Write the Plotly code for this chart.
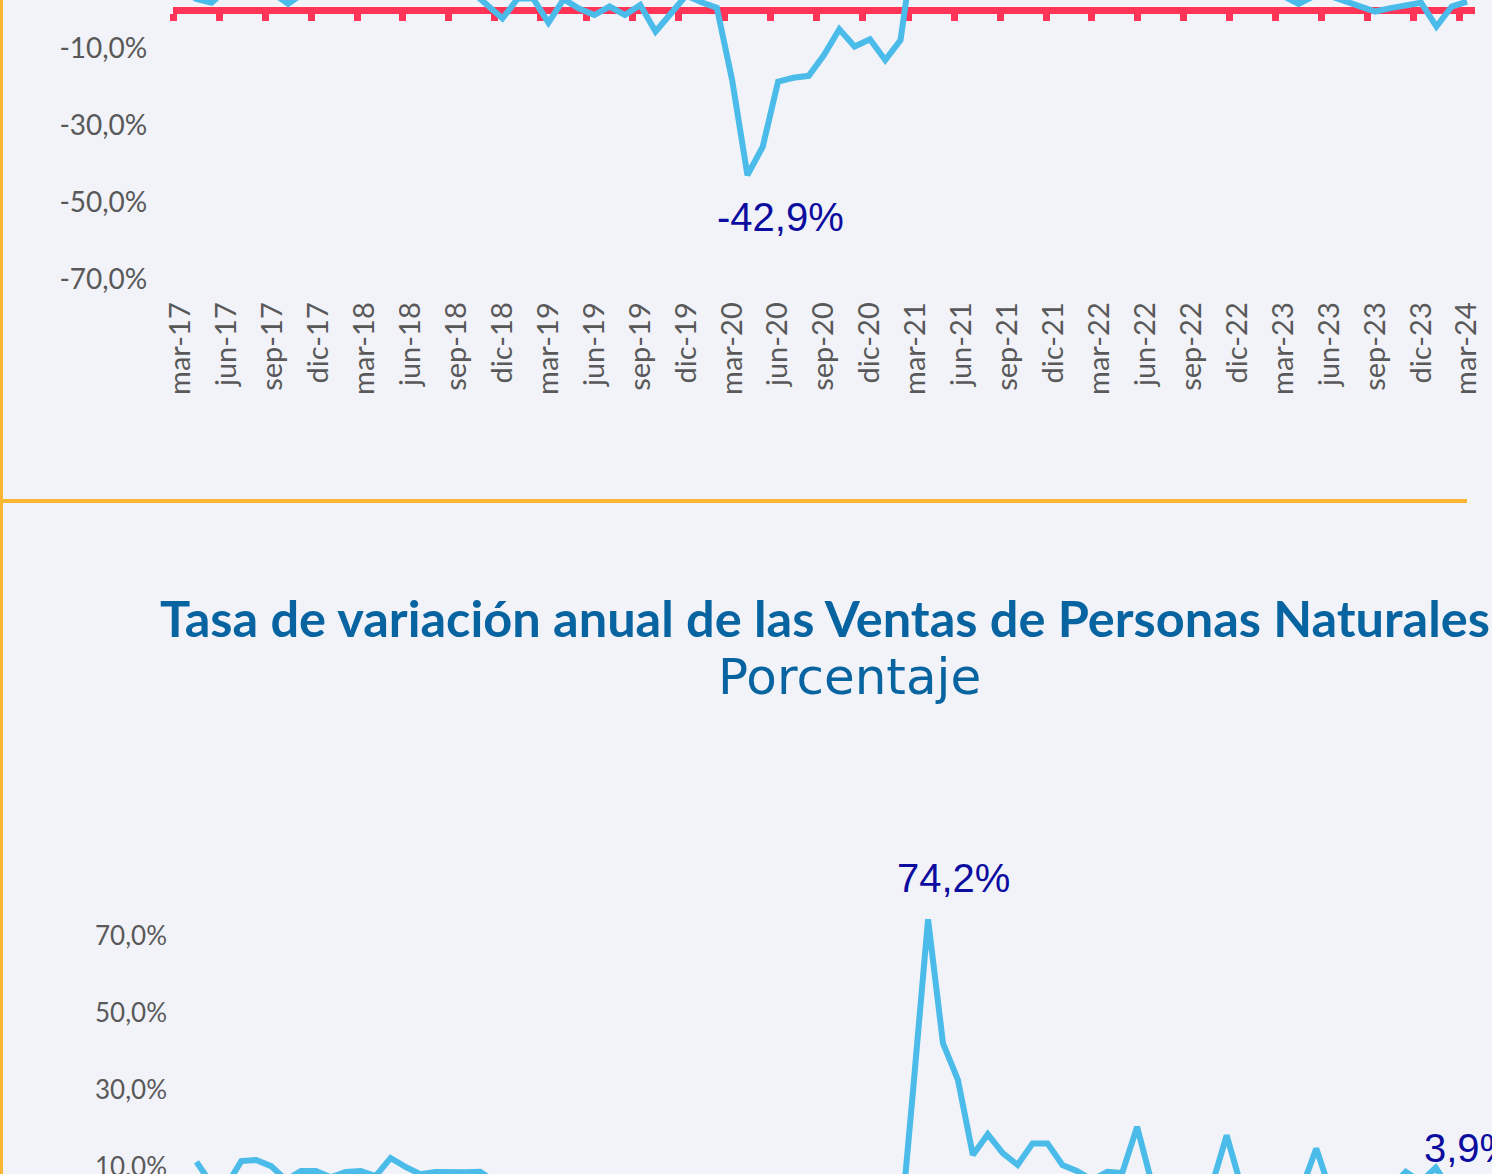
import plotly.graph_objects as go

# ---------------- data ----------------
periods = [
    "mar-17", "abr-17", "may-17", "jun-17", "jul-17", "ago-17", "sep-17", "oct-17", "nov-17", "dic-17",
    "ene-18", "feb-18", "mar-18", "abr-18", "may-18", "jun-18", "jul-18", "ago-18", "sep-18", "oct-18", "nov-18", "dic-18",
    "ene-19", "feb-19", "mar-19", "abr-19", "may-19", "jun-19", "jul-19", "ago-19", "sep-19", "oct-19", "nov-19", "dic-19",
    "ene-20", "feb-20", "mar-20", "abr-20", "may-20", "jun-20", "jul-20", "ago-20", "sep-20", "oct-20", "nov-20", "dic-20",
    "ene-21", "feb-21", "mar-21", "abr-21", "may-21", "jun-21", "jul-21", "ago-21", "sep-21", "oct-21", "nov-21", "dic-21",
    "ene-22", "feb-22", "mar-22", "abr-22", "may-22", "jun-22", "jul-22", "ago-22", "sep-22", "oct-22", "nov-22", "dic-22",
    "ene-23", "feb-23", "mar-23", "abr-23", "may-23", "jun-23", "jul-23", "ago-23", "sep-23", "oct-23", "nov-23", "dic-23",
    "ene-24", "feb-24", "mar-24",
]

ventas_totales = [
    5.2, 2.9, 1.9, 5.5, 6.8, 5.9, 4.4, 1.6, 4.4, 6.1,
    5.4, 7.2, 4.8, 5.6, 6.4, 4.9, 5.3, 6.0, 5.1, 4.8, 1.3, -2.2,
    3.0, 3.0, -3.3, 2.8, 0.4, -1.3, 0.9, -1.3, 1.3, -5.6, -0.9, 3.8,
    2.0, 0.6, -18.2, -42.9, -35.5, -18.6, -17.6, -17.1, -11.7, -5.0, -9.5, -7.6,
    -13.0, -7.8, 20.5, 62.0, 38.0, 29.5, 12.5, 16.0, 11.0, 9.0, 13.5, 14.0,
    9.5, 7.5, 5.5, 7.5, 7.0, 16.5, 6.5, 5.5, 5.0, 4.5, 5.0, 12.0,
    4.8, 4.0, 3.6, 1.6, 3.6, 3.7, 2.2, 0.9, -0.4, 0.5, 1.3, 1.9,
    -4.3, 0.9, 2.2,
]

ventas_personas_naturales = [
    11.2, 5.5, 5.0, 11.4, 11.7, 10.1, 6.5, 8.8, 8.8, 7.2,
    8.6, 8.8, 7.5, 12.2, 9.9, 8.0, 8.6, 8.4, 8.5, 8.6, 6.0, 5.2,
    6.8, 5.5, 4.8, 6.2, 5.0, 4.2, 5.8, 4.6, 5.3, 2.1, 4.4, 6.0,
    5.2, 4.0, -14.5, -44.0, -37.0, -21.0, -18.5, -16.0, -11.0, -6.0, -8.5, -7.0,
    -12.5, -13.0, 30.0, 74.2, 42.0, 32.5, 13.0, 18.4, 13.5, 10.4, 16.0, 16.0,
    10.4, 8.8, 6.5, 8.6, 8.3, 20.3, 5.5, 4.8, 5.6, 4.2, 5.0, 18.1,
    4.5, 3.8, 4.6, 2.5, 4.0, 14.7, 3.0, 4.5, 2.2, 3.6, 4.8, 8.6,
    6.0, 9.7, 3.9,
]

top_ytick_vals = [-70, -50, -30, -10]
top_ytick_text = ["-70,0%", "-50,0%", "-30,0%", "-10,0%"]
bot_ytick_vals = [10, 30, 50, 70]
bot_ytick_text = ["10,0%", "30,0%", "50,0%", "70,0%"]

titulo = "Tasa de variación anual de las Ventas de Personas Naturales"
subtitulo = "Porcentaje"

# ---------------- layout helpers ----------------
W, H = 1492, 1174


def fx(p):
    return p / W


def fy(p):
    return 1 - p / H


BG = "#F2F3F9"
BLUE = "#4BBBE9"
RED = "#FF3456"
GRAY = "#595959"
NAVY = "#0C0C9E"
TITLE_C = "#0764A0"
ORANGE = "#FBB634"

idx = list(range(len(periods)))
label_idx = [i for i, p in enumerate(periods) if p[:3] in ("mar", "jun", "sep", "dic")]
label_txt = [periods[i] for i in label_idx]
quarter_bounds = [i - 0.5 for i in label_idx]
xr = [-0.5, len(periods) - 0.5]

top_yr = [-70, 70 * 10 / 269.5]
top_dom = [fy(279.5), 1.0]
bot_yr = [10 - 7.5 / 3.85, 10 + 306.5 / 3.85]
bot_dom = [0.0, fy(860)]

zero_frac = top_dom[0] + (0 - top_yr[0]) / (top_yr[1] - top_yr[0]) * (top_dom[1] - top_dom[0])

fig = go.Figure()
fig.add_trace(go.Scatter(
    x=idx, y=ventas_totales, xaxis="x3", yaxis="y", mode="lines",
    line=dict(color=BLUE, width=6), hoverinfo="skip", showlegend=False,
))
fig.add_trace(go.Scatter(
    x=idx, y=ventas_personas_naturales, xaxis="x2", yaxis="y2", mode="lines",
    line=dict(color=BLUE, width=6), hoverinfo="skip", showlegend=False,
))


def fmt(v):
    return f"{v:.1f}%".replace(".", ",")


def value_label(series, i, xref, yaxis, yr, xshift, yshift):
    v = series[i]
    frac = (v - yr[0]) / (yr[1] - yr[0])
    return dict(
        x=i, xref=xref, y=frac, yref=f"{yaxis} domain", text=fmt(v), showarrow=False,
        xshift=xshift, yshift=yshift, xanchor="center", yanchor="middle",
        font=dict(family="Liberation Sans", size=40, color=NAVY),
    )


i_min = ventas_totales.index(min(ventas_totales))
i_max = ventas_personas_naturales.index(max(ventas_personas_naturales))
i_last = len(ventas_personas_naturales) - 1

annotations = [
    value_label(ventas_totales, i_min, "x", "y", top_yr, 33, -42),
    value_label(ventas_personas_naturales, i_max, "x2", "y2", bot_yr, 25, 41),
    value_label(ventas_personas_naturales, i_last, "x2", "y2", bot_yr, 19, 42),
    dict(x=fx(825), y=fy(617), xref="paper", yref="paper", text=f"<b>{titulo}</b>",
         showarrow=False, xanchor="center", yanchor="middle",
         font=dict(family="Lato", size=50.5, color=TITLE_C)),
    dict(x=fx(849.5), y=fy(677), xref="paper", yref="paper", text=subtitulo,
         showarrow=False, xanchor="center", yanchor="middle",
         font=dict(family="DejaVu Sans", size=50, color=TITLE_C)),
]

shapes = [
    dict(type="line", xref="paper", yref="paper", x0=fx(1.5), x1=fx(1.5), y0=0, y1=1,
         line=dict(color=ORANGE, width=3)),
    dict(type="line", xref="paper", yref="paper", x0=0, x1=fx(1467), y0=fy(501), y1=fy(501),
         line=dict(color=ORANGE, width=4)),
]

fig.update_layout(
    template="none",
    width=W, height=H, margin=dict(l=0, r=0, t=0, b=0, pad=0, autoexpand=False),
    paper_bgcolor=BG, plot_bgcolor=BG, showlegend=False,
    xaxis=dict(
        domain=[fx(173.3), fx(1474.7)], range=xr, anchor="y", automargin=False,
        tickmode="array", tickvals=label_idx, ticktext=label_txt, tickangle=-90,
        tickfont=dict(family="Lato", size=29, color=GRAY),
        showline=False, showgrid=False, zeroline=False, ticks="", ticklabelstandoff=16,
    ),
    xaxis3=dict(
        overlaying="x", anchor="free", position=zero_frac, range=xr, automargin=False,
        showline=True, linecolor=RED, linewidth=7,
        ticks="outside", tickmode="array", tickvals=quarter_bounds,
        ticklen=7, tickwidth=7, tickcolor=RED, showticklabels=False,
        showgrid=False, zeroline=False, layer="below traces",
    ),
    yaxis=dict(
        domain=top_dom, range=top_yr, anchor="x", automargin=False,
        tickmode="array", tickvals=top_ytick_vals, ticktext=top_ytick_text,
        tickfont=dict(family="Lato", size=28, color=GRAY),
        showgrid=False, zeroline=False, showline=False, ticks="", ticklabelstandoff=25,
    ),
    xaxis2=dict(
        domain=[fx(189.0), fx(1458.1)], range=xr, anchor="y2", automargin=False,
        showticklabels=False, showline=False, showgrid=False, zeroline=False, ticks="",
    ),
    yaxis2=dict(
        domain=bot_dom, range=bot_yr, anchor="x2", automargin=False,
        tickmode="array", tickvals=bot_ytick_vals, ticktext=bot_ytick_text,
        tickfont=dict(family="Lato", size=26, color=GRAY), ticklabeloverflow="allow",
        showgrid=False, zeroline=False, showline=False, ticks="", ticklabelstandoff=21,
    ),
    annotations=annotations,
    shapes=shapes,
)

fig.write_html("out.html", config={"displayModeBar": False},
               post_script="document.body.style.margin='0';document.body.style.overflow='hidden';")
